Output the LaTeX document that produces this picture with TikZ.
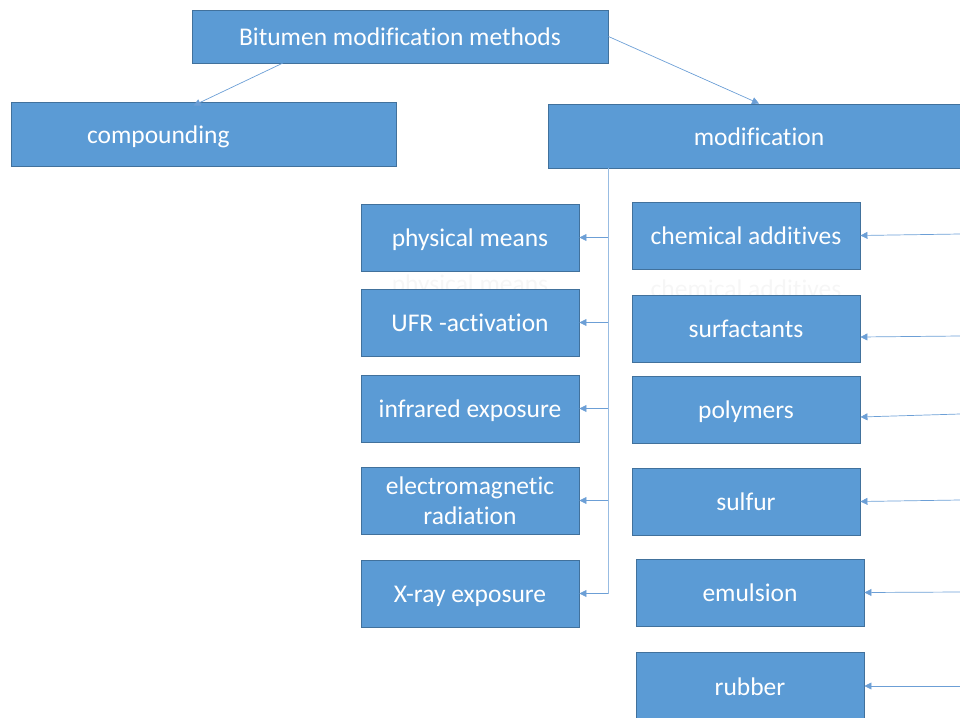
\documentclass[tikz,border=0pt]{standalone}
\usepackage{fontspec}
\setmainfont{Carlito}[Ligatures=CommonOff]
\usetikzlibrary{arrows.meta}
\definecolor{boxfill}{HTML}{5B9BD5}
\definecolor{boxline}{HTML}{41719C}
\definecolor{arrowc}{HTML}{6C9FD6}
\definecolor{ghost}{HTML}{F6F6F6}
\tikzset{
  box/.style={draw=boxline, fill=boxfill, text=white, inner sep=0pt, line width=0.9pt,
    align=center, font=\fontsize{25.5}{30}\selectfont},
  oneline/.style={text height=21pt, text depth=3pt},
  leftbox/.style={box, minimum width=218pt, minimum height=67pt},
  rightbox/.style={box, oneline, minimum width=228pt, minimum height=67pt},
  arr/.style={draw=arrowc, line width=0.7pt, -{Triangle[width=7pt,length=7pt]}},
  trunkline/.style={draw=arrowc!70, line width=0.8pt},
  ghosttext/.style={text=ghost, font=\fontsize{25.5}{30}\selectfont}
}
\begin{document}
\begin{tikzpicture}[x=1pt,y=-1pt]
\useasboundingbox (0,0) rectangle (960,717);
\clip (0,0) rectangle (960,717);
% faint ghost texts (behind boxes)
\node[ghosttext] (g1) at (470,286) {physical means};
\node[ghosttext] (g2) at (746,289) {chemical additives};
% top level
\node[box, minimum width=416pt, minimum height=53pt] (top) at (400,36.5) {Bitumen modification methods};
\node[box, oneline, minimum height=64pt, inner xsep=76pt, text width=233pt, align=left] (comp) at (203.5,134) {compounding};
\node[box, oneline, minimum width=422pt, minimum height=64pt] (mod) at (759,136) {modification};
% left column
\node[leftbox, oneline] (phys) at (470,237.5) {physical means};
\node[leftbox, oneline] (ufr) at (470,322.5) {UFR -activation};
\node[leftbox, oneline] (ir) at (470,408.5) {infrared exposure};
\node[leftbox] (em) at (470,500.5) {electromagnetic\\radiation};
\node[leftbox, oneline] (xray) at (470,593.5) {X-ray exposure};
% right column
\node[rightbox] (chem) at (746,235.5) {chemical additives};
\node[rightbox] (surf) at (746,328.5) {surfactants};
\node[rightbox] (poly) at (746,409.5) {polymers};
\node[rightbox] (sulf) at (746,501.5) {sulfur};
\node[rightbox] (emul) at (750,592.5) {emulsion};
\node[rightbox] (rub) at (750,686) {rubber};
% top connectors
\coordinate (tstart) at (283,63);
\draw[arr] (tstart) -- ([xshift=-10pt,yshift=-4pt]comp.north);
\draw[arr] (top.east) -- (mod.north);
% trunk
\coordinate (trunk) at (608,168);
\draw[trunkline] (trunk) -- (trunk |- xray.east);
\draw[arr] (trunk |- phys.east) -- (phys.east);
\draw[arr] (trunk |- ufr.east) -- (ufr.east);
\draw[arr] (trunk |- ir.east) -- (ir.east);
\draw[arr] (trunk |- em.east) -- (em.east);
\draw[arr] (trunk |- xray.east) -- (xray.east);
% right incoming arrows
\coordinate (r1) at (960,234);
\coordinate (r2) at (960,336);
\coordinate (r3) at (960,414);
\coordinate (r4) at (960,500);
\coordinate (r5) at (960,592);
\coordinate (r6) at (960,686);
\draw[arr] (r1) -- (chem.east);
\draw[arr] (r2) -- ([yshift=-8.5pt]surf.east);
\draw[arr] (r3) -- ([yshift=-7.5pt]poly.east);
\draw[arr] (r4) -- (sulf.east);
\draw[arr] (r5) -- (emul.east);
\draw[arr] (r6) -- (rub.east);
\end{tikzpicture}
\end{document}
